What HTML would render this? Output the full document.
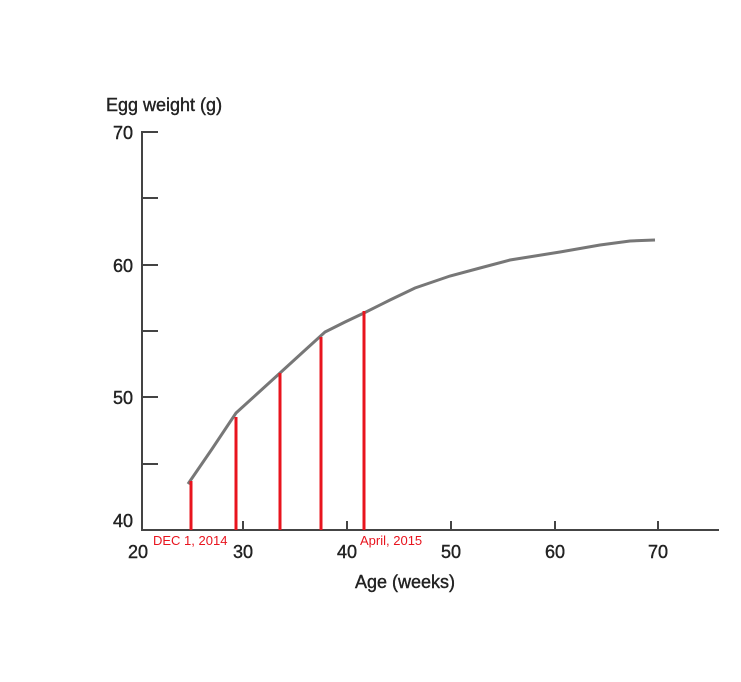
<!DOCTYPE html><html><head><style>body{margin:0;background:#fff}</style></head><body>
<svg width="741" height="677" xmlns="http://www.w3.org/2000/svg" font-family="Liberation Sans, sans-serif">
<g stroke="#444" stroke-width="2" fill="none">
<line x1="142" y1="131" x2="142" y2="531"/>
<line x1="141" y1="530" x2="719" y2="530"/>
<line x1="142" y1="132" x2="158" y2="132"/>
<line x1="142" y1="198" x2="158" y2="198"/>
<line x1="142" y1="265" x2="158" y2="265"/>
<line x1="142" y1="331" x2="158" y2="331"/>
<line x1="142" y1="397" x2="158" y2="397"/>
<line x1="142" y1="464" x2="158" y2="464"/>
<line x1="243" y1="521" x2="243" y2="530"/>
<line x1="347" y1="521" x2="347" y2="530"/>
<line x1="451" y1="521" x2="451" y2="530"/>
<line x1="555" y1="521" x2="555" y2="530"/>
<line x1="658" y1="521" x2="658" y2="530"/>
</g>
<polyline fill="none" stroke="#777" stroke-width="3" points="188,484 212,449 236,413 258,393 280,373 303,352 325,332 345,322 364,313 390,300 415,288 450,276 480,268 510,260 560,252 600,245 630,241 655,240"/>
<g stroke="#e8141e" stroke-width="3">
<line x1="191" y1="481" x2="191" y2="530"/>
<line x1="236" y1="417" x2="236" y2="530"/>
<line x1="280" y1="373" x2="280" y2="530"/>
<line x1="321" y1="337" x2="321" y2="530"/>
<line x1="364" y1="311" x2="364" y2="530"/>
</g>
<g fill="#222" stroke="#222" stroke-width="0.4" font-size="18">
<text x="106" y="111">Egg weight (g)</text>
<text x="133" y="139" text-anchor="end">70</text>
<text x="133" y="272" text-anchor="end">60</text>
<text x="133" y="404" text-anchor="end">50</text>
<text x="133" y="527" text-anchor="end">40</text>
<text x="138" y="558" text-anchor="middle">20</text>
<text x="243" y="558" text-anchor="middle">30</text>
<text x="347" y="558" text-anchor="middle">40</text>
<text x="451" y="558" text-anchor="middle">50</text>
<text x="555" y="558" text-anchor="middle">60</text>
<text x="658" y="558" text-anchor="middle">70</text>
<text x="405" y="588" text-anchor="middle">Age (weeks)</text>
</g>
<g fill="#e8141e" font-size="13">
<text x="153" y="545">DEC 1, 2014</text>
<text x="360" y="545">April, 2015</text>
</g>
</svg></body></html>
